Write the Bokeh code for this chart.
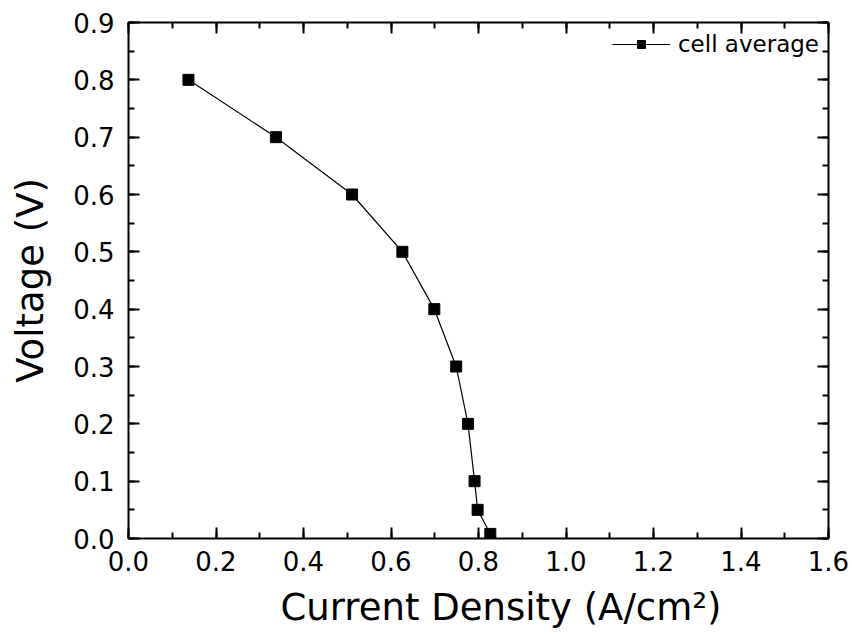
from bokeh.plotting import figure
from bokeh.models import (LinearAxis, Range1d, SingleIntervalTicker, Legend, LegendItem,
                          ColumnDataSource, NumeralTickFormatter, CustomJSTickFormatter, Title)
from bokeh.embed import file_html
from bokeh.resources import INLINE

current_density = [0.137, 0.337, 0.511, 0.626, 0.699, 0.749, 0.776, 0.791, 0.798, 0.827]
voltage = [0.80, 0.70, 0.60, 0.50, 0.40, 0.30, 0.20, 0.10, 0.05, 0.008]
series_name = "cell average"
x_title = "Current Density (A/cm²)"
y_title = "Voltage (V)"

FONT = "DejaVu Sans"

p = figure(width=852, height=638, output_backend="svg", toolbar_location=None,
           x_range=Range1d(0, 1.6), y_range=Range1d(0, 0.9),
           min_border_left=128, min_border_right=24, min_border_top=22, min_border_bottom=100,
           x_axis_location=None, y_axis_location=None)
p.grid.visible = False
p.outline_line_color = None
p.background_fill_color = "white"
p.border_fill_color = "white"

def make_axis(ticker_int, minor, labels=True, title=None):
    ax = LinearAxis(ticker=SingleIntervalTicker(interval=ticker_int, num_minor_ticks=minor))
    ax.axis_line_width = 2
    ax.axis_line_color = "black"
    ax.major_tick_in = 11
    ax.major_tick_out = 0
    ax.minor_tick_in = 6
    ax.minor_tick_out = 0
    ax.major_tick_line_width = 2
    ax.minor_tick_line_width = 2
    ax.major_tick_line_color = "black"
    ax.minor_tick_line_color = "black"
    if labels:
        ax.formatter = NumeralTickFormatter(format="0.0")
        ax.major_label_text_font = FONT
        ax.major_label_text_font_size = "26px"
        ax.major_label_text_color = "black"
    else:
        ax.formatter = CustomJSTickFormatter(code="return '';")
        ax.major_label_text_font_size = "10px"
        ax.major_label_standoff = 0
    if title:
        ax.axis_label = title
        ax.axis_label_text_font = FONT
        ax.axis_label_text_font_size = "37px"
        ax.axis_label_text_font_style = "normal"
        ax.axis_label_text_color = "black"
    return ax

xb = make_axis(0.2, 2, True)
xb.major_label_standoff = 12
yl = make_axis(0.1, 2, True, y_title)
yl.major_label_standoff = 14
yl.axis_label_standoff = 18
xt = make_axis(0.2, 2, False)
yr = make_axis(0.1, 2, False)
p.add_layout(xb, "below")
p.add_layout(yl, "left")
p.add_layout(xt, "above")
p.add_layout(yr, "right")

xtitle = Title(text=x_title, align="left", offset=152, text_font=FONT, text_font_size="37px",
               text_font_style="normal", text_color="black", standoff=20)
p.add_layout(xtitle, "below")

src = ColumnDataSource(dict(x=current_density, y=voltage))
ln = p.line("x", "y", source=src, line_color="black", line_width=1.2)
sc = p.scatter("x", "y", source=src, marker="square", size=11, fill_color="black", line_color="black")

legend = Legend(items=[LegendItem(label=series_name, renderers=[ln, sc])],
                location="top_right", border_line_color=None, background_fill_alpha=0,
                label_text_font=FONT, label_text_font_size="23px", label_text_color="black",
                glyph_width=58, glyph_height=20, label_standoff=8, margin=9, padding=6, spacing=0)
p.add_layout(legend, "center")

open("out.html", "w").write(file_html(p, INLINE))
